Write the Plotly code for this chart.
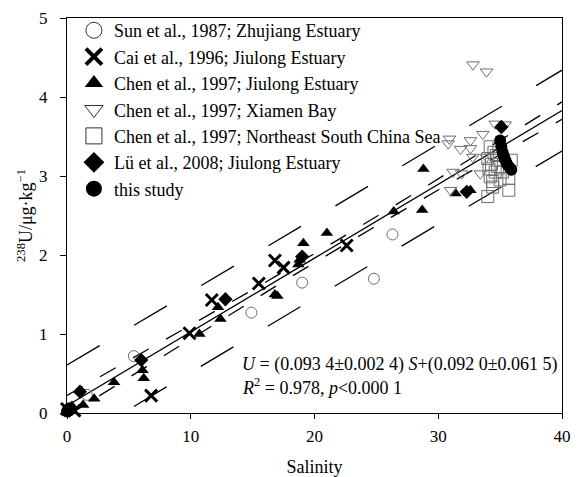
import numpy as np
import plotly.graph_objects as go

# ---- data ----
sun_x = [0.3, 1.6, 5.4, 14.9, 19.0, 24.8, 26.3]
sun_y = [0.05, 0.23, 0.72, 1.27, 1.65, 1.70, 2.26]

cai_x = [0.0, 0.6, 6.8, 9.9, 11.7, 15.5, 16.8, 17.5, 22.6]
cai_y = [0.05, 0.03, 0.22, 1.01, 1.43, 1.64, 1.93, 1.84, 2.12]

chenj_x = [0.0, 0.4, 1.3, 2.2, 3.8, 6.1, 6.2, 10.7, 12.2, 12.4, 16.8, 17.0,
           18.7, 18.8, 19.1, 21.0, 26.4, 28.7, 28.8, 31.4, 32.6]
chenj_y = [0.03, 0.09, 0.10, 0.18, 0.39, 0.54, 0.44, 1.00, 1.34, 1.19, 1.50, 1.48,
           1.88, 1.94, 2.15, 2.28, 2.55, 2.57, 3.09, 2.78, 2.82]

xiamen_x = [30.8, 30.9, 31.0, 31.2, 31.8, 31.9, 32.6, 32.6, 32.8, 32.8, 33.4,
            33.6, 33.9, 33.9, 34.6, 35.4]
xiamen_y = [3.41, 3.47, 2.82, 3.05, 3.34, 3.03, 3.45, 3.35, 3.24, 4.41, 3.03,
            3.53, 3.24, 4.32, 3.66, 3.65]

scs_x = [34.0, 34.1, 34.2, 34.2, 34.4, 34.6, 34.7, 35.7, 35.7, 35.9, 34.0,
         34.4, 34.3, 34.8, 35.2, 35.0, 34.5, 34.9]
scs_y = [3.22, 3.09, 3.37, 2.99, 2.93, 3.05, 3.26, 2.82, 2.97, 3.20, 2.74,
         2.86, 3.15, 3.12, 3.05, 2.95, 3.30, 3.35]

lu_x = [0.2, 1.05, 6.0, 12.8, 19.0, 32.3, 35.1]
lu_y = [0.04, 0.27, 0.67, 1.44, 1.98, 2.80, 3.62]

this_x = [0.0, 0.2, 35.0, 35.1, 35.2, 35.3, 35.4, 35.5, 35.6, 35.8, 35.9]
this_y = [0.02, 0.06, 3.45, 3.37, 3.30, 3.25, 3.21, 3.17, 3.14, 3.10, 3.08]

# regression (from the figure's equation) and band parameters
slope = 0.0934
intercept = 0.0920
ts = 0.5        # t * residual s
n_obs = 83
x_mean = 22.0
sxx = 8800.0

x_line = np.linspace(0, 40, 201)
y_fit = intercept + slope * x_line
ci = ts * np.sqrt(1.0 / n_obs + (x_line - x_mean) ** 2 / sxx)
pi = ts * np.sqrt(1.0 + 1.0 / n_obs + (x_line - x_mean) ** 2 / sxx)

SERIF = "Liberation Serif"
GREY = "#6e6e6e"

fig = go.Figure()

# lines
fig.add_trace(go.Scatter(x=x_line, y=y_fit, mode="lines",
                         line=dict(color="black", width=1.3), showlegend=False))
for yy in (y_fit + ci, y_fit - ci):
    fig.add_trace(go.Scatter(x=x_line, y=yy, mode="lines",
                             line=dict(color="black", width=1.3, dash="18px,20px"),
                             showlegend=False))
for yy in (y_fit + pi, y_fit - pi):
    fig.add_trace(go.Scatter(x=x_line, y=yy, mode="lines",
                             line=dict(color="black", width=1.3, dash="38px,40px"),
                             showlegend=False))

series = [
    ("Sun et al., 1987; Zhujiang Estuary", sun_x, sun_y,
     dict(symbol="circle-open", size=11, color=GREY, line=dict(width=1, color=GREY)),
     dict(symbol="circle-open", size=18, color="#333", line=dict(width=1, color="#333"))),
    ("Cai et al., 1996; Jiulong Estuary", cai_x, cai_y,
     dict(symbol="x-thin-open", size=12, color="black", line=dict(width=3, color="black")),
     dict(symbol="x-thin-open", size=18, color="black", line=dict(width=4, color="black"))),
    ("Chen et al., 1997; Jiulong Estuary", chenj_x, chenj_y,
     dict(symbol="triangle-up", size=11, color="black"),
     dict(symbol="triangle-up", size=18, color="black")),
    ("Chen et al., 1997; Xiamen Bay", xiamen_x, xiamen_y,
     dict(symbol="triangle-down-open", size=11, color=GREY, line=dict(width=1, color=GREY)),
     dict(symbol="triangle-down-open", size=18, color="#333", line=dict(width=1, color="#333"))),
    ("Chen et al., 1997; Northeast South China Sea", scs_x, scs_y,
     dict(symbol="square-open", size=12, color=GREY, line=dict(width=1, color=GREY)),
     dict(symbol="square-open", size=18, color="#333", line=dict(width=1, color="#333"))),
    ("Lü et al., 2008; Jiulong Estuary", lu_x, lu_y,
     dict(symbol="diamond", size=11, color="black"),
     dict(symbol="diamond", size=18, color="black")),
    ("this study", this_x, this_y,
     dict(symbol="circle", size=12, color="black"),
     dict(symbol="circle", size=18, color="black")),
]

for i, (name, xs, ys, mk, lmk) in enumerate(series):
    fig.add_trace(go.Scatter(x=xs, y=ys, mode="markers", name=name, marker=mk,
                             cliponaxis=False, showlegend=False,
                             legendgroup="g%d" % i))
    # legend entry with a larger symbol (as in the reference legend)
    fig.add_trace(go.Scatter(x=[None], y=[None], mode="markers", name=name,
                             marker=lmk, showlegend=True, legendgroup="g%d" % i))

eq_font = dict(family=SERIF, size=18, color="black")
fig.add_annotation(
    xref="paper", yref="paper", x=0.352, y=0.123, xanchor="left", yanchor="middle",
    showarrow=False, font=eq_font, borderpad=0,
    text="<i>U</i> = (0.093 4±0.002 4) <i>S</i>+(0.092 0±0.061 5)")
fig.add_annotation(
    xref="paper", yref="paper", x=0.352, y=0.068, xanchor="left", yanchor="middle",
    showarrow=False, font=eq_font, borderpad=0,
    text="<i>R</i><sup>2</sup> = 0.978, <i>p</i>&lt;0.000 1")

fig.update_layout(
    width=585, height=477,
    margin=dict(l=67, r=23, t=15, b=64),
    paper_bgcolor="white", plot_bgcolor="white",
    font=dict(family=SERIF, size=17, color="black"),
    legend=dict(x=0.014, y=1.015, xanchor="left", yanchor="top",
                bgcolor="rgba(0,0,0,0)", font=dict(family=SERIF, size=18),
                itemsizing="trace", tracegroupgap=0),
)
fig.update_xaxes(range=[0, 40], tickvals=[0, 10, 20, 30, 40], showgrid=False,
                 zeroline=False, showline=True, linecolor="black", linewidth=1.2,
                 mirror=True, ticks="outside", ticklen=5, tickcolor="black",
                 automargin=False, ticklabelstandoff=2,
                 title=dict(text="Salinity", font=dict(family=SERIF, size=18), standoff=16))
fig.update_yaxes(range=[0, 5], tickvals=[0, 1, 2, 3, 4, 5], showgrid=False,
                 zeroline=False, showline=True, linecolor="black", linewidth=1.2,
                 mirror=True, ticks="outside", ticklen=6, tickcolor="black",
                 automargin=False, ticklabelstandoff=9,
                 title=dict(text="<sup>238</sup>U/μg·kg<sup>−1</sup>",
                            font=dict(family=SERIF, size=18), standoff=1))

fig.write_html("out.html", config={"displayModeBar": False},
               post_script="document.body.style.margin='0px';")
